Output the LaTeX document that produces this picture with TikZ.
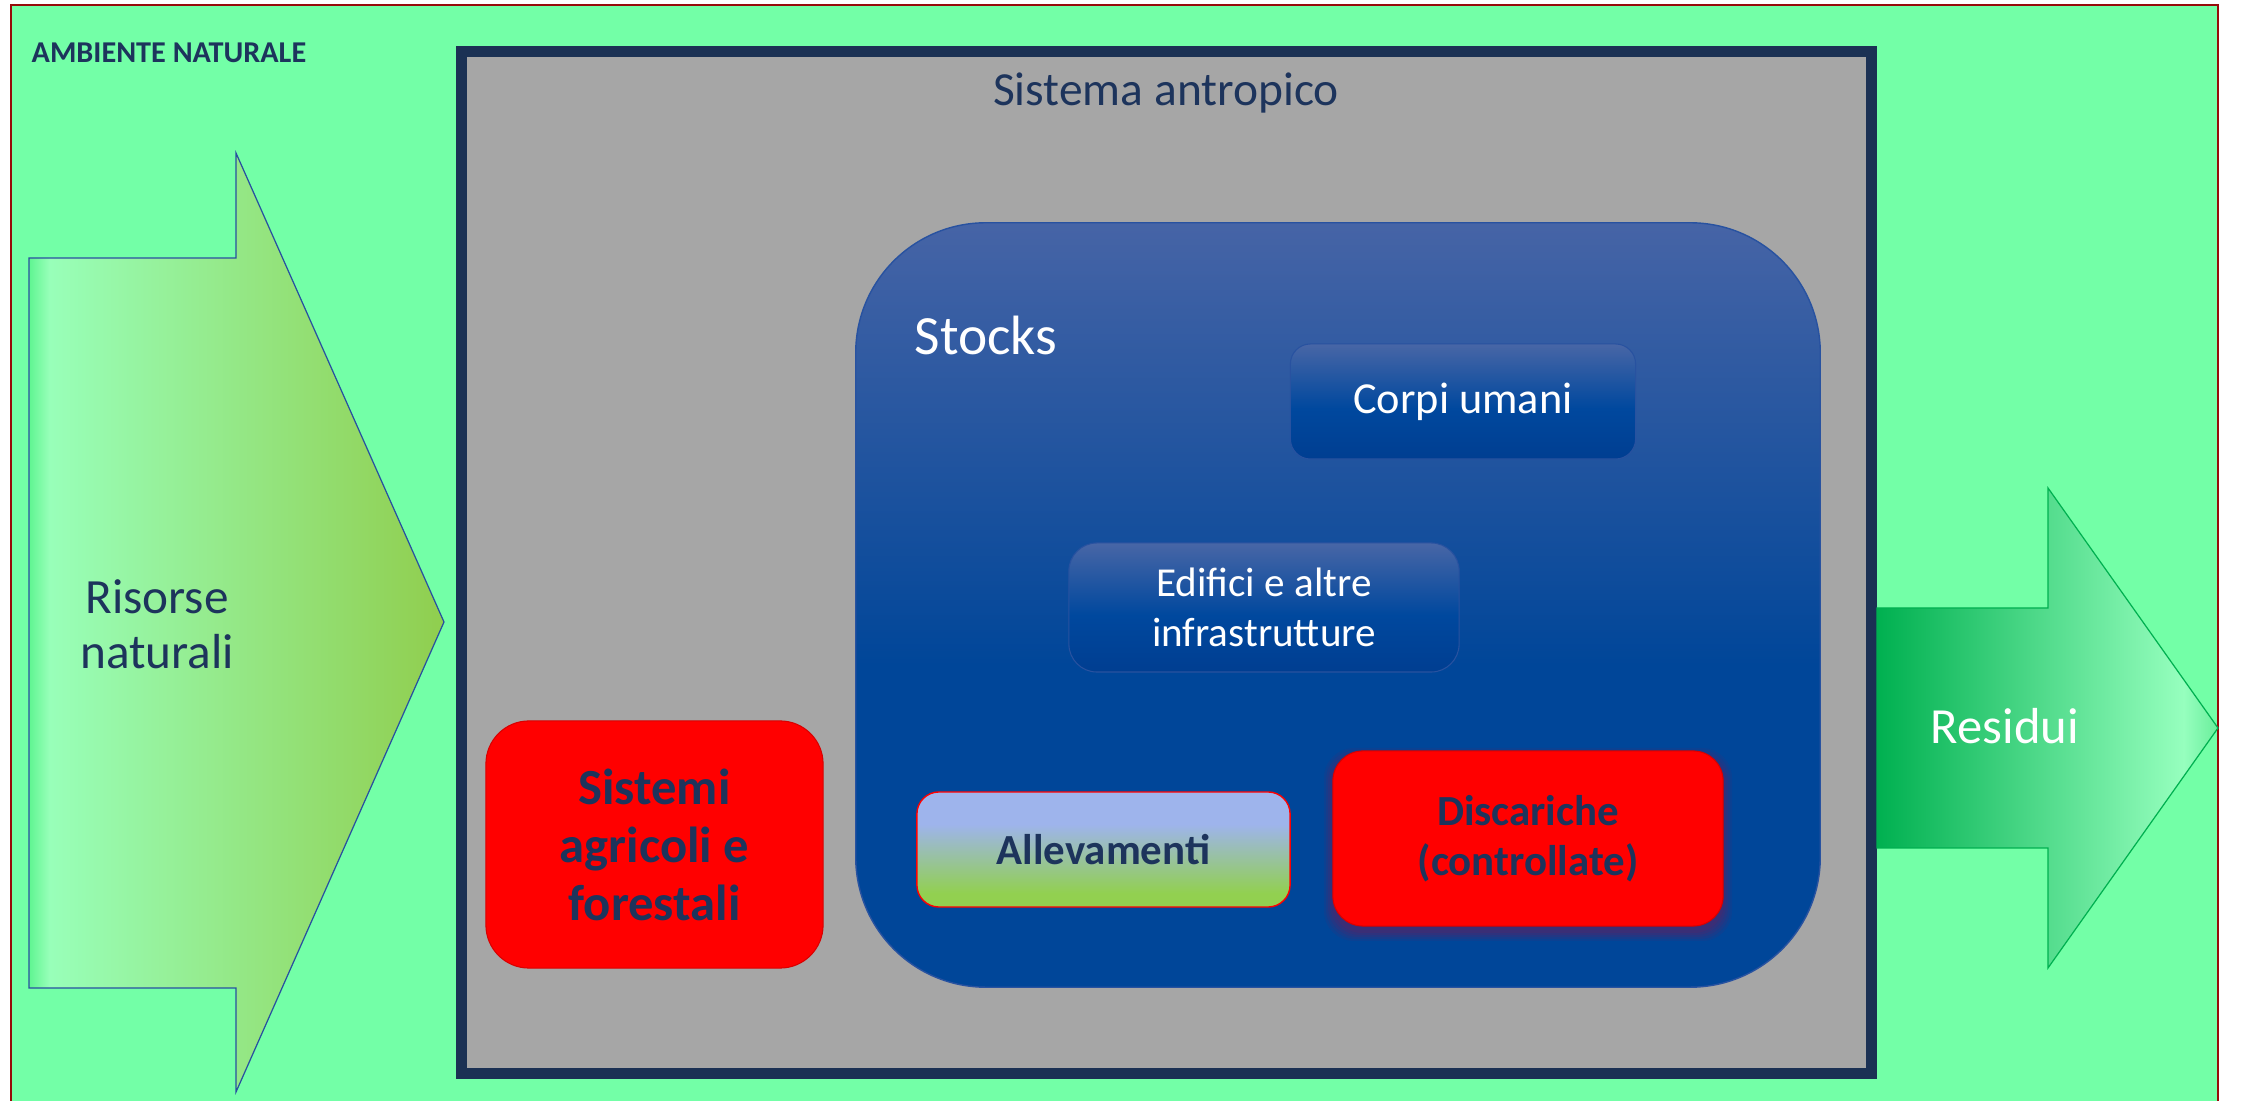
\documentclass[tikz,border=0pt]{standalone}
\usepackage{fontspec}
\setmainfont{Carlito}

\definecolor{meadow}{RGB}{115,255,167}
\definecolor{framered}{RGB}{150,12,10}
\definecolor{navy}{RGB}{27,49,84}
\definecolor{navytext}{RGB}{29,52,92}
\definecolor{panelgray}{RGB}{166,166,166}
\definecolor{stocktop}{RGB}{70,100,166}
\definecolor{stockbot}{RGB}{0,70,153}
\definecolor{stockline}{RGB}{40,82,160}
\definecolor{boxtop}{RGB}{72,102,166}
\definecolor{boxmid}{RGB}{0,72,158}
\definecolor{boxbot}{RGB}{0,62,145}
\definecolor{allevtop}{RGB}{158,180,236}
\definecolor{allevbot}{RGB}{146,208,80}
\definecolor{inedge}{RGB}{95,245,145}
\definecolor{inlight}{RGB}{152,255,185}
\definecolor{indark}{RGB}{144,206,78}
\definecolor{inline}{RGB}{40,80,160}
\definecolor{outdark}{RGB}{0,176,80}
\definecolor{outlight}{RGB}{150,255,190}
\definecolor{outtip}{RGB}{105,238,155}
\definecolor{shadowtone}{RGB}{110,30,90}

% shadings: the filled path spans the 25bp--75bp band
\pgfdeclareverticalshading{stockshade}{100bp}{color(0bp)=(stockbot); color(46bp)=(stockbot); color(75bp)=(stocktop); color(100bp)=(stocktop)}
\pgfdeclareverticalshading{boxshade}{100bp}{color(0bp)=(boxbot); color(25bp)=(boxbot); color(47bp)=(boxmid); color(75bp)=(boxtop); color(100bp)=(boxtop)}
\pgfdeclareverticalshading{allevshade}{100bp}{color(0bp)=(allevbot); color(31bp)=(allevbot); color(61bp)=(allevtop); color(100bp)=(allevtop)}
\pgfdeclarehorizontalshading{inshade}{100bp}{color(0bp)=(inedge); color(25bp)=(inedge); color(27.5bp)=(inlight); color(75bp)=(indark); color(100bp)=(indark)}
\pgfdeclarehorizontalshading{outshade}{100bp}{color(0bp)=(outdark); color(25bp)=(outdark); color(70bp)=(outlight); color(75bp)=(outtip); color(100bp)=(outtip)}

\begin{document}
\begin{tikzpicture}[x=0.01cm, y=-0.01cm,
  stockbox/.style={shade, shading=boxshade, draw=stockline, line width=0.3pt,
    inner sep=0pt, align=center, text=white},
  redbox/.style={fill=red, draw=red!85!black, line width=0.3pt,
    inner sep=0pt, align=center, text=navytext},
  darklabel/.style={text=navytext},
]
\useasboundingbox (0,0) rectangle (2244,1101);
\fill[white] (0,0) rectangle (2244,1101);

% natural environment frame
\begin{scope}
  \clip (0,0) rectangle (2244,1101);
  \draw[framered, line width=0.75pt, fill=meadow] (11,5) rectangle (2218,1140);
\end{scope}
\node[darklabel, anchor=base west, inner sep=0pt, font=\bfseries\fontsize{8.6}{10}\selectfont] (env) at (31,63) {AMBIENTE NATURALE};

% incoming resources arrow
\shadedraw[shading=inshade, draw=inline, line width=0.35pt]
  (29,258) -- (236,258) -- (236,153) -- (444,622) -- (236,1092) -- (236,988) -- (29,988) -- cycle;
\node[darklabel, align=center, font=\fontsize{14}{15.7}\selectfont] (inlabel) at (157,624) {Risorse\\naturali};

% anthropic system panel
\node[draw=navy, line width=0.11cm, fill=panelgray, minimum width=14.10cm, minimum height=10.22cm, inner sep=0pt] (anthro) at (1166.5,562.5) {};
\node[darklabel, anchor=base, font=\fontsize{13.5}{16}\selectfont] (anthrotitle) at (1166,106) {Sistema antropico};

% outgoing residues arrow
\shadedraw[shading=outshade, draw=outdark, line width=0.35pt]
  (1877,608) -- (2048,608) -- (2048,488) -- (2218,728) -- (2048,968) -- (2048,848) -- (1877,848) -- cycle;
\node[text=white, anchor=base, font=\fontsize{14.4}{17}\selectfont] (outlabel) at (2005,744) {Residui};

% stocks area
\node[shade, shading=stockshade, draw=stockline, line width=0.4pt, rounded corners=1.3cm,
  minimum width=9.64cm, minimum height=7.64cm, inner sep=0pt] (stocks) at (1338,605) {};
\node[text=white, anchor=base west, inner sep=0pt, font=\fontsize{15.75}{18}\selectfont] (stockslabel) at (914,355) {Stocks};

\node[stockbox, rounded corners=0.2cm, minimum width=3.45cm, minimum height=1.15cm,
  font=\fontsize{12.6}{15}\selectfont] (corpi) at (1463,401.5) {Corpi umani};
\node[stockbox, rounded corners=0.28cm, minimum width=3.90cm, minimum height=1.29cm,
  font=\fontsize{11.7}{14.2}\selectfont] (edifici) at (1264,607.5) {Edifici e altre\\infrastrutture};

% agricultural and forest systems
\node[redbox, rounded corners=0.43cm, minimum width=3.37cm, minimum height=2.47cm,
  font=\bfseries\fontsize{14.4}{16.5}\selectfont] (agri) at (654.5,844.5) {Sistemi\\agricoli e\\forestali};

% livestock
\node[shade, shading=allevshade, draw=red, line width=0.4pt, rounded corners=0.22cm,
  minimum width=3.73cm, minimum height=1.15cm, inner sep=0pt, text=navytext,
  font=\bfseries\fontsize{12.2}{14.2}\selectfont] (allev) at (1103.5,849.5) {Allevamenti};

% landfills with soft shadow
\foreach \g/\o in {9/0.10, 7/0.12, 5/0.14, 3/0.16, 1/0.18} {
  \fill[shadowtone, opacity=\o, rounded corners=0.3cm]
    (1333-\g,757-\g) rectangle (1723+\g,932+\g);
}
\node[redbox, rounded corners=0.3cm, minimum width=3.90cm, minimum height=1.75cm,
  font=\bfseries\fontsize{12.2}{14.2}\selectfont] (discariche) at (1528,838.5) {Discariche\\(controllate)};
\end{tikzpicture}
\end{document}
